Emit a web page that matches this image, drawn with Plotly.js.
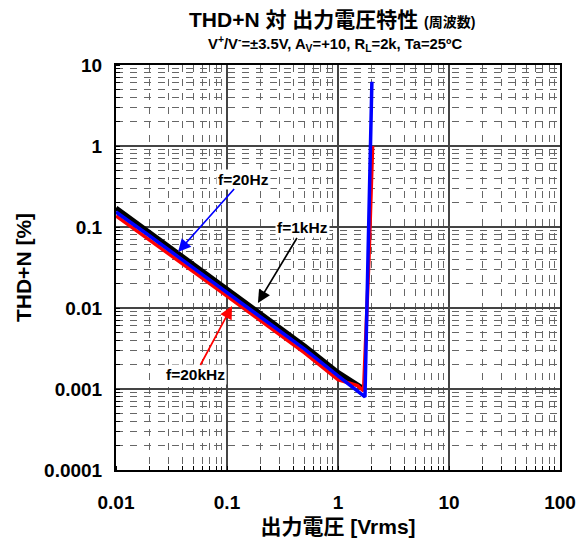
<!DOCTYPE html>
<html>
<head>
<meta charset="utf-8">
<script src="https://cdn.plot.ly/plotly-3.0.1.min.js"></script>
<style>html,body{margin:0;padding:0;background:#fff;}#chart{width:584px;height:548px;}</style>
</head>
<body>
<div id="chart"></div>
<script>
// ---- data ----
const xTickVals = [0.01, 0.1, 1, 10, 100];
const xTickText = ['0.01', '0.1', '1', '10', '100'];
const yTickVals = [0.0001, 0.001, 0.01, 0.1, 1, 10];
const yTickText = ['0.0001', '0.001', '0.01', '0.1', '1', '10'];

const x1kHz = [0.01, 0.02, 0.05, 0.1, 0.2, 0.5, 1, 1.5, 1.72];
const y1kHz = [0.172, 0.086, 0.034, 0.017, 0.0085, 0.0034, 0.0016, 0.00115, 0.001];

const x20kHz = [0.01, 0.02, 0.05, 0.1, 0.2, 0.5, 1, 1.5, 1.7, 1.9, 2.05];
const y20kHz = [0.137, 0.07, 0.028, 0.014, 0.007, 0.0028, 0.0013, 0.0011, 0.00095, 0.04, 1.0];

const x20Hz = [0.01, 0.02, 0.05, 0.1, 0.2, 0.5, 1, 1.5, 1.75, 1.86, 1.98, 2.02];
const y20Hz = [0.153, 0.078, 0.031, 0.0155, 0.0078, 0.0031, 0.00145, 0.00095, 0.0008, 0.039, 1.0, 6.2];

const labels = ['f=20Hz', 'f=1kHz', 'f=20kHz'];

const FONT = 'Liberation Sans, Arial, Noto Sans CJK JP, sans-serif';

const traces = [
  {x: x1kHz, y: y1kHz, mode: 'lines', line: {color: '#000000', width: 5}, name: labels[1]},
  {x: x20kHz, y: y20kHz, mode: 'lines', line: {color: '#ff0000', width: 3.5}, name: labels[2]},
  {x: x20Hz, y: y20Hz, mode: 'lines', line: {color: '#0000ff', width: 3.5}, name: labels[0]}
];

function axisCommon() {
  return {
    type: 'log',
    showline: true, mirror: true, linecolor: '#000', linewidth: 2,
    showgrid: true, gridcolor: '#444', gridwidth: 1.5,
    ticks: '', zeroline: false,
    tickfont: {family: FONT, size: 19, color: '#000', weight: 'bold'},
    minor: {dtick: 'D1', showgrid: true, gridcolor: '#666', gridwidth: 1, griddash: '7px,7px', ticks: 'inside', ticklen: 4, tickcolor: '#000'}
  };
}

const xaxis = Object.assign(axisCommon(), {
  range: [-2, 2],
  tickvals: xTickVals, ticktext: xTickText,
  ticklabelstandoff: 14,
  title: {text: '<b>出力電圧 [Vrms]</b>', font: {family: FONT, size: 21, color: '#000'}, standoff: 8}
});
const yaxis = Object.assign(axisCommon(), {
  range: [-4, 1],
  tickvals: yTickVals, ticktext: yTickText,
  ticklabelstandoff: 8,
  title: {text: '<b>THD+N [%]</b>', font: {family: FONT, size: 21, color: '#000'}, standoff: 7}
});

function annot(text, color, xv, yv, ax, ay) {
  return {
    x: Math.log10(xv), y: Math.log10(yv), xref: 'x', yref: 'y',
    text: '<b>' + text + '</b>', showarrow: true, ax: ax, ay: ay,
    arrowcolor: color, arrowhead: 2, arrowsize: 1.5, arrowwidth: 1.7,
    bgcolor: '#fff', borderpad: 1,
    font: {family: FONT, size: 15.5, color: '#000'}
  };
}

const layout = {
  width: 584, height: 548,
  margin: {l: 116, r: 24, t: 65, b: 78},
  paper_bgcolor: '#fff', plot_bgcolor: '#fff',
  showlegend: false,
  xaxis: xaxis, yaxis: yaxis,
  annotations: [
    {xref: 'paper', yref: 'paper', x: 0.486, y: 1, yshift: 46, yanchor: 'middle', showarrow: false,
     text: '<b>THD+N 対 出力電圧特性 <span style="font-size:14px">(周波数)</span></b>',
     font: {family: FONT, size: 21, color: '#000'}},
    {xref: 'paper', yref: 'paper', x: 0.493, y: 1, yshift: 21, yanchor: 'middle', showarrow: false,
     text: '<b>V<sup>+</sup>/V<sup>-</sup>=±3.5V, A<sub>V</sub>=+10, R<sub>L</sub>=2k, Ta=25ºC</b>',
     font: {family: FONT, size: 14.8, color: '#000'}},
    annot(labels[0], '#0000ff', 0.0362, 0.0491, 65, -73),
    annot(labels[1], '#000000', 0.190, 0.01153, 45, -75),
    annot(labels[2], '#ff0000', 0.111, 0.01059, -37, 69)
  ]
};

Plotly.newPlot('chart', traces, layout, {displayModeBar: false, staticPlot: true});
</script>
</body>
</html>
